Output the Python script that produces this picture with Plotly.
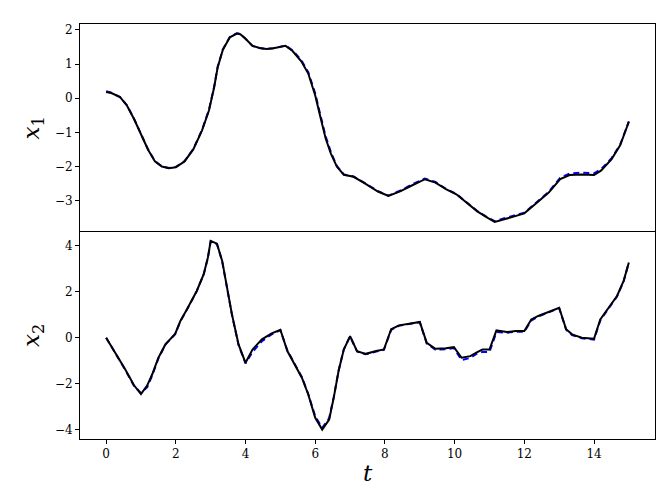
import plotly.graph_objects as go
from plotly.subplots import make_subplots

# state x1: time stamps, true values (blue dashed) and prediction (black)
t1 = [0.0, 0.15, 0.4, 0.6, 0.8, 1.0, 1.2, 1.4, 1.6, 1.8, 2.0, 2.25, 2.5, 2.75, 2.95,
      3.1, 3.2, 3.35, 3.55, 3.75, 3.85, 4.0, 4.2, 4.4, 4.6, 4.8, 5.0, 5.15, 5.35, 5.6,
      5.8, 6.0, 6.15, 6.3, 6.45, 6.62, 6.82, 7.1, 7.4, 7.63, 7.8, 8.1, 8.45, 8.8, 9.15,
      9.45, 9.75, 10.05, 10.35, 10.65, 10.95, 11.15, 11.4, 11.65, 12.0, 12.3, 12.7,
      13.03, 13.3, 13.65, 14.0, 14.2, 14.5, 14.75, 15.0]
x1_pred = [0.18, 0.15, 0.03, -0.22, -0.61, -1.06, -1.5, -1.85, -2.0, -2.05, -2.02, -1.85,
           -1.5, -0.95, -0.36, 0.32, 0.9, 1.42, 1.78, 1.89, 1.87, 1.74, 1.53, 1.47, 1.44,
           1.46, 1.51, 1.53, 1.38, 1.08, 0.72, 0.08, -0.56, -1.18, -1.62, -2.0, -2.24,
           -2.3, -2.48, -2.62, -2.73, -2.86, -2.72, -2.54, -2.37, -2.47, -2.66, -2.81,
           -3.06, -3.31, -3.5, -3.62, -3.55, -3.48, -3.37, -3.11, -2.76, -2.37, -2.25,
           -2.23, -2.25, -2.12, -1.79, -1.38, -0.69]
x1_true = [0.2, 0.16, 0.03, -0.21, -0.6, -1.05, -1.49, -1.84, -2.0, -2.04, -2.01, -1.84,
           -1.49, -0.93, -0.34, 0.34, 0.92, 1.43, 1.79, 1.9, 1.88, 1.74, 1.53, 1.47, 1.44,
           1.46, 1.51, 1.54, 1.4, 1.11, 0.76, 0.14, -0.5, -1.12, -1.58, -1.98, -2.23,
           -2.29, -2.47, -2.61, -2.72, -2.85, -2.7, -2.51, -2.35, -2.45, -2.65, -2.8,
           -3.05, -3.3, -3.49, -3.6, -3.52, -3.45, -3.35, -3.09, -2.74, -2.33, -2.2,
           -2.18, -2.2, -2.08, -1.76, -1.36, -0.68]

# state x2
t2 = [0.0, 0.12, 0.3, 0.55, 0.8, 1.0, 1.18, 1.32, 1.5, 1.7, 1.98, 2.13, 2.32, 2.6, 2.8,
      2.92, 3.0, 3.18, 3.33, 3.47, 3.61, 3.8, 4.0, 4.2, 4.47, 4.75, 5.0, 5.2, 5.4, 5.62,
      5.8, 6.0, 6.2, 6.4, 6.53, 6.67, 6.82, 7.0, 7.2, 7.45, 7.75, 7.97, 8.18, 8.4, 8.7,
      9.0, 9.2, 9.45, 9.75, 9.98, 10.2, 10.45, 10.65, 10.8, 11.0, 11.2, 11.5, 11.75,
      12.0, 12.2, 12.4, 12.7, 13.0, 13.2, 13.37, 13.65, 14.0, 14.18, 14.42, 14.66,
      14.85, 15.0]
x2_pred = [0.0, -0.29, -0.73, -1.38, -2.07, -2.45, -2.07, -1.6, -0.87, -0.29, 0.17, 0.73,
           1.24, 2.04, 2.77, 3.5, 4.22, 4.1, 3.35, 2.18, 1.02, -0.29, -1.09, -0.51, -0.07,
           0.19, 0.35, -0.58, -1.16, -1.75, -2.47, -3.49, -4.0, -3.56, -2.62, -1.45,
           -0.51, 0.07, -0.58, -0.7, -0.58, -0.51, 0.37, 0.54, 0.61, 0.69, -0.22, -0.48,
           -0.46, -0.41, -0.87, -0.8, -0.62, -0.51, -0.51, 0.32, 0.25, 0.29, 0.29, 0.8,
           0.95, 1.12, 1.31, 0.37, 0.15, 0.0, -0.04, 0.8, 1.31, 1.82, 2.48, 3.28]
x2_true = [0.0, -0.3, -0.75, -1.4, -2.1, -2.4, -2.15, -1.65, -0.9, -0.3, 0.16, 0.72,
           1.23, 2.03, 2.76, 3.48, 4.2, 4.08, 3.33, 2.15, 1.0, -0.32, -1.12, -0.62, -0.15,
           0.15, 0.33, -0.55, -1.12, -1.72, -2.45, -3.42, -3.92, -3.5, -2.6, -1.43,
           -0.5, 0.06, -0.6, -0.72, -0.6, -0.53, 0.35, 0.52, 0.6, 0.68, -0.25, -0.52,
           -0.5, -0.45, -0.97, -0.88, -0.68, -0.62, -0.62, 0.25, 0.22, 0.26, 0.26, 0.75,
           0.93, 1.1, 1.29, 0.35, 0.12, -0.02, -0.08, 0.76, 1.29, 1.8, 2.46, 3.28]

xticks = [0, 2, 4, 6, 8, 10, 12, 14]

fig = make_subplots(rows=2, cols=1, shared_xaxes=True, vertical_spacing=0)

for row, (t, y_true, y_pred) in enumerate([(t1, x1_true, x1_pred), (t2, x2_true, x2_pred)], start=1):
    fig.add_trace(go.Scatter(x=t, y=y_true, mode="lines", name="true",
                             line=dict(color="blue", width=2, dash="6px,4px")), row=row, col=1)
    fig.add_trace(go.Scatter(x=t, y=y_pred, mode="lines", name="pred",
                             line=dict(color="black", width=2)), row=row, col=1)

tickfont = dict(family="DejaVu Serif", size=12, color="black")
titlefont = dict(family="DejaVu Serif", size=23, color="black")
axis_common = dict(showline=True, mirror=True, linecolor="black", linewidth=1,
                   showgrid=False, zeroline=False, ticks="outside", ticklen=4,
                   tickwidth=1, tickcolor="black", tickfont=tickfont)

fig.update_xaxes(**axis_common, range=[-0.75, 15.75], tickvals=xticks)
# top panel: only its upper frame line, the shared middle line comes from the lower panel
fig.update_xaxes(showticklabels=False, ticks="", mirror=False, side="top", row=1, col=1)
fig.update_xaxes(title=dict(text="<i>t</i>", font=titlefont, standoff=4), row=2, col=1)

fig.update_yaxes(**axis_common)
fig.update_yaxes(range=[-3.9, 2.17], tickvals=[-3, -2, -1, 0, 1, 2],
                 ticktext=["−3", "−2", "−1", "0", "1", "2"],
                 title=dict(text="<i>x</i><sub>1</sub>", font=titlefont, standoff=8),
                 row=1, col=1)
fig.update_yaxes(range=[-4.41, 4.63], tickvals=[-4, -2, 0, 2, 4],
                 ticktext=["−4", "−2", "0", "2", "4"],
                 title=dict(text="<i>x</i><sub>2</sub>", font=titlefont, standoff=8),
                 row=2, col=1)

fig.update_layout(width=664, height=498, showlegend=False,
                  margin=dict(l=72, r=17, t=16, b=67),
                  plot_bgcolor="white", paper_bgcolor="white")

fig.write_html("out.html")
